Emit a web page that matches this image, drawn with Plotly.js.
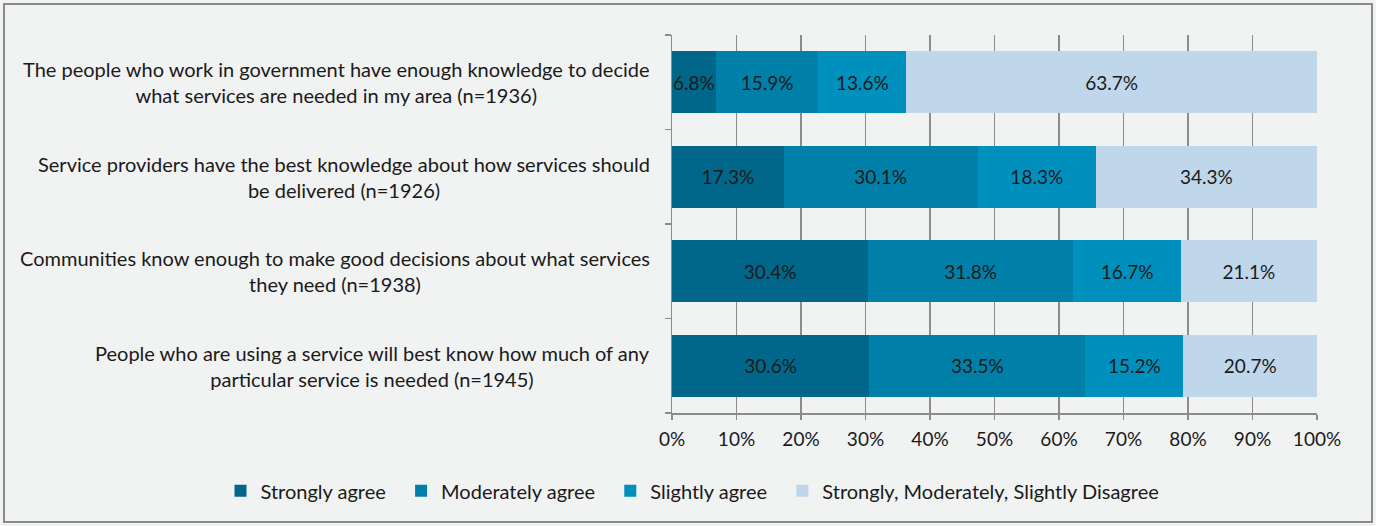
<!DOCTYPE html>
<html>
<head>
<meta charset="utf-8">
<script src="https://cdn.plot.ly/plotly-3.0.1.min.js"></script>
<style>
  html, body { margin: 0; padding: 0; background: #f1f2f2; }
  #chart { width: 1376px; height: 526px; }
  #frame { position: absolute; left: 3px; top: 3px; width: 1366px; height: 516px;
           border: 2px solid #8a8a8a; pointer-events: none; }
</style>
</head>
<body>
<div id="chart"></div>
<div id="frame"></div>
<script>
const categories = [
  "The people who work in government have enough knowledge to decide<br>what services are needed in my area (n=1936)",
  "Service providers have the best knowledge about how services should<br>be delivered (n=1926)",
  "Communities know enough to make good decisions about what services<br>they need (n=1938)",
  "People who are using a service will best know how much of any<br>particular service is needed (n=1945)"
];
const seriesNames = ["Strongly agree", "Moderately agree", "Slightly agree", "Strongly, Moderately, Slightly Disagree"];
const stronglyAgree   = [6.8, 17.3, 30.4, 30.6];
const moderatelyAgree = [15.9, 30.1, 31.8, 33.5];
const slightlyAgree   = [13.6, 18.3, 16.7, 15.2];
const disagree        = [63.7, 34.3, 21.1, 20.7];
const xTicks = [0, 10, 20, 30, 40, 50, 60, 70, 80, 90, 100];

const colors = ["#00678a", "#007fa8", "#0090bd", "#c0d6ea"];
const FONT = "Lato, 'Open Sans', sans-serif";
const values = [stronglyAgree, moderatelyAgree, slightlyAgree, disagree];

const traces = values.map((v, i) => ({
  type: "bar",
  orientation: "h",
  name: seriesNames[i] + (i < seriesNames.length - 1 ? "\u00a0\u00a0" : ""),
  y: categories,
  x: v,
  marker: { color: colors[i], line: { width: 0 } },
  text: v.map(d => d.toFixed(1) + "%"),
  textposition: "inside",
  insidetextanchor: "middle",
  constraintext: "none",
  textangle: 0,
  textfont: { family: FONT, size: 19, color: "#1a1a1a" },
  hoverinfo: "x+name"
}));

const annotations = categories.map(c => ({
  xref: "paper", yref: "y", x: 0, y: c, xanchor: "right", yanchor: "middle",
  xshift: -20, text: c, showarrow: false, align: "center",
  font: { family: FONT, size: 20, color: "#1a1a1a" }
}));

const layout = {
  width: 1376, height: 526,
  paper_bgcolor: "#f1f2f2", plot_bgcolor: "#f1f2f2",
  margin: { l: 672, r: 59, t: 35, b: 113, pad: 0 },
  barmode: "stack",
  bargap: 0.34,
  font: { family: FONT, size: 19, color: "#1a1a1a" },
  xaxis: {
    range: [0, 100], tickvals: xTicks, ticktext: xTicks.map(t => t + "%"),
    showgrid: true, gridcolor: "#8c8c8c", gridwidth: 1.3,
    zeroline: false, showline: true, linecolor: "#8c8c8c", linewidth: 1.5,
    ticks: "outside", ticklen: 5, tickcolor: "#8c8c8c", tickwidth: 1.5,
    ticklabelstandoff: 4,
    tickfont: { family: FONT, size: 19, color: "#1a1a1a" }, fixedrange: true
  },
  yaxis: {
    type: "category", categoryorder: "array", categoryarray: categories.slice().reverse(),
    showticklabels: false, showgrid: false, zeroline: false,
    showline: true, linecolor: "#8c8c8c", linewidth: 1.5,
    ticks: "outside", tickson: "boundaries", ticklen: 6, tickcolor: "#8c8c8c", tickwidth: 1.5,
    fixedrange: true
  },
  legend: {
    orientation: "h", xref: "paper", yref: "paper",
    x: -0.70, xanchor: "left", y: -0.206, yanchor: "middle",
    traceorder: "normal",
    font: { family: FONT, size: 20, color: "#1a1a1a" },
    bgcolor: "rgba(0,0,0,0)"
  },
  annotations: annotations,
  showlegend: true
};

Plotly.newPlot("chart", traces, layout, { displayModeBar: false, staticPlot: true });
</script>
</body>
</html>
